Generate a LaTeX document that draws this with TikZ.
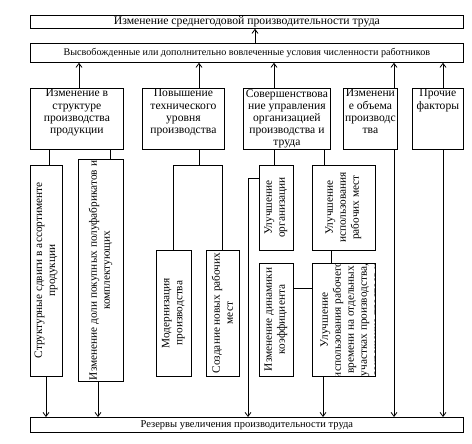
\documentclass[tikz,border=0pt]{standalone}
\usepackage{fontspec}
\setmainfont{Liberation Serif}
\usetikzlibrary{arrows.meta}
\newcommand{\tbx}[3]{\parbox[c][#2][t]{#1}{\centering\vspace*{1pt}#3\par}}
\tikzset{
  box/.style={draw, line width=0.8pt, inner sep=0pt, anchor=north west},
  hdr/.style={box, font=\fontsize{11}{12}\selectfont},
  lvl/.style={box, font=\fontsize{11.6}{12.2}\selectfont},
  rot/.style={draw, line width=0.8pt, inner sep=1pt, rotate=90, align=center, font=\fontsize{11.3}{13}\selectfont},
  rottxt/.style={inner sep=0pt, anchor=center, rotate=90, align=center, font=\fontsize{11.3}{13}\selectfont},
  con/.style={line width=0.8pt},
  arr/.style={con, -{Straight Barb[length=4pt,width=6pt]}},
}
\begin{document}
\begin{tikzpicture}[x=1pt,y=-1pt]
\useasboundingbox (0,0) rectangle (472,444);
% header boxes
\node[hdr, font=\fontsize{11.7}{12}\selectfont, minimum width=433pt, minimum height=13pt] (T1) at (30,15) {Изменение среднегодовой производительности труда};
\node[hdr, font=\fontsize{10.1}{12}\selectfont, minimum width=433pt, minimum height=19pt] (T2) at (30,43) {Высвобожденные или дополнительно вовлеченные условия численности работников};
\node[hdr, font=\fontsize{10.5}{12}\selectfont, minimum width=433pt, minimum height=15pt] (R) at (30,417) {Резервы увеличения производительности труда};
% level 3
\node[lvl] (A) at (30,88) {\tbx{93pt}{61pt}{Изменение в\\структуре\\производства\\продукции}};
\node[lvl] (B) at (142,88) {\tbx{82pt}{61pt}{Повышение\\технического\\уровня\\производства}};
\node[lvl] (C) at (243,88) {\tbx{87pt}{61pt}{Совершенствова\\ние управления\\организацией\\производства и\\труда}};
\node[lvl] (D) at (343,88) {\tbx{54pt}{61pt}{Изменени\\е объема\\производс\\тва}};
\node[lvl] (E) at (412,88) {\tbx{51pt}{61pt}{Прочие\\факторы}};
% rotated boxes
\node[rot, minimum width=211pt, minimum height=32pt] (A1) at (46,270.5) {Структурные сдвиги в ассортименте\\продукции};
\node[rot, minimum width=211pt, minimum height=45pt] (A2) at (100.5,270.5) {Изменение доли покупных полуфабрикатов и\\комплектующих};
\node[rot, minimum width=126pt, minimum height=35pt] (B1) at (173.5,313) {Модернизация\\производства};
\node[rot, minimum width=126pt, minimum height=33pt] (B2) at (222.5,313) {Создание новых рабочих\\мест};
\node[rot, minimum width=85pt, minimum height=34pt] (C1) at (276,207.5) {Улучшение\\организации};
\node[rot, minimum width=85pt, minimum height=63pt] (C2) at (343.5,207.5) {Улучшение\\использования\\рабочих мест};
\node[rot, minimum width=113pt, minimum height=34pt] (C3) at (276,319.5) {Изменение динамики\\коэффициента};
\node[draw, line width=0.8pt, inner sep=0pt, anchor=north west, minimum width=63pt, minimum height=113pt,
  path picture={\node[rottxt] (C4t) at ([xshift=7.5pt]path picture bounding box.center) {Улучшение\\использования рабочего\\времени на отдельных\\участках производства,\\сокращение простоев и};}] (C4) at (312,263) {};
% connectors up
\draw[arr] (T2.north -| 255,0) -- (T1.south -| 255,0);
\draw[arr] (A.north -| 79,0) -- (T2.south -| 79,0);
\draw[arr] (B.north -| 199,0) -- (T2.south -| 199,0);
\draw[arr] (C.north -| 274,0) -- (T2.south -| 274,0);
\draw[arr] (D.north -| 394,0) -- (T2.south -| 394,0);
\draw[arr] (E.north -| 443,0) -- (T2.south -| 443,0);
% A branch
\draw[con] (A.south -| 49,0) -- (A1.east -| 49,0);
\draw[con] (A.south -| 110,0) -- (A2.east -| 110,0);
\draw[arr] (A1.west -| 46,0) -- (R.north -| 46,0);
\draw[arr] (A2.west -| 98,0) -- (R.north -| 98,0);
% B branch
\coordinate (Bj) at (199,165);
\draw[con] (B.south -| Bj) -- (Bj);
\draw[con] (B1.east) -- (B1.east |- Bj) -- (B2.east |- Bj) -- (B2.east);
% C branch
\draw[con] (C.south -| 274,0) -- (C1.east -| 274,0);
\draw[con] (C.south -| 324,0) -- (C2.east -| 324,0);
\coordinate (Cl) at (248,178);
\draw[arr] (C1.north |- Cl) -- (Cl) -- (R.north -| Cl);
\draw[con] (C2.west -| 331,0) -- (C4.north -| 331,0);
\draw[con] (C3.south |- 0,288) -- (C4.west |- 0,288);
\draw[arr] (C4.south -| 323,0) -- (R.north -| 323,0);
% D, E
\draw[arr] (D.south -| 394,0) -- (R.north -| 394,0);
\draw[arr] (E.south -| 443,0) -- (R.north -| 443,0);
\end{tikzpicture}
\end{document}
